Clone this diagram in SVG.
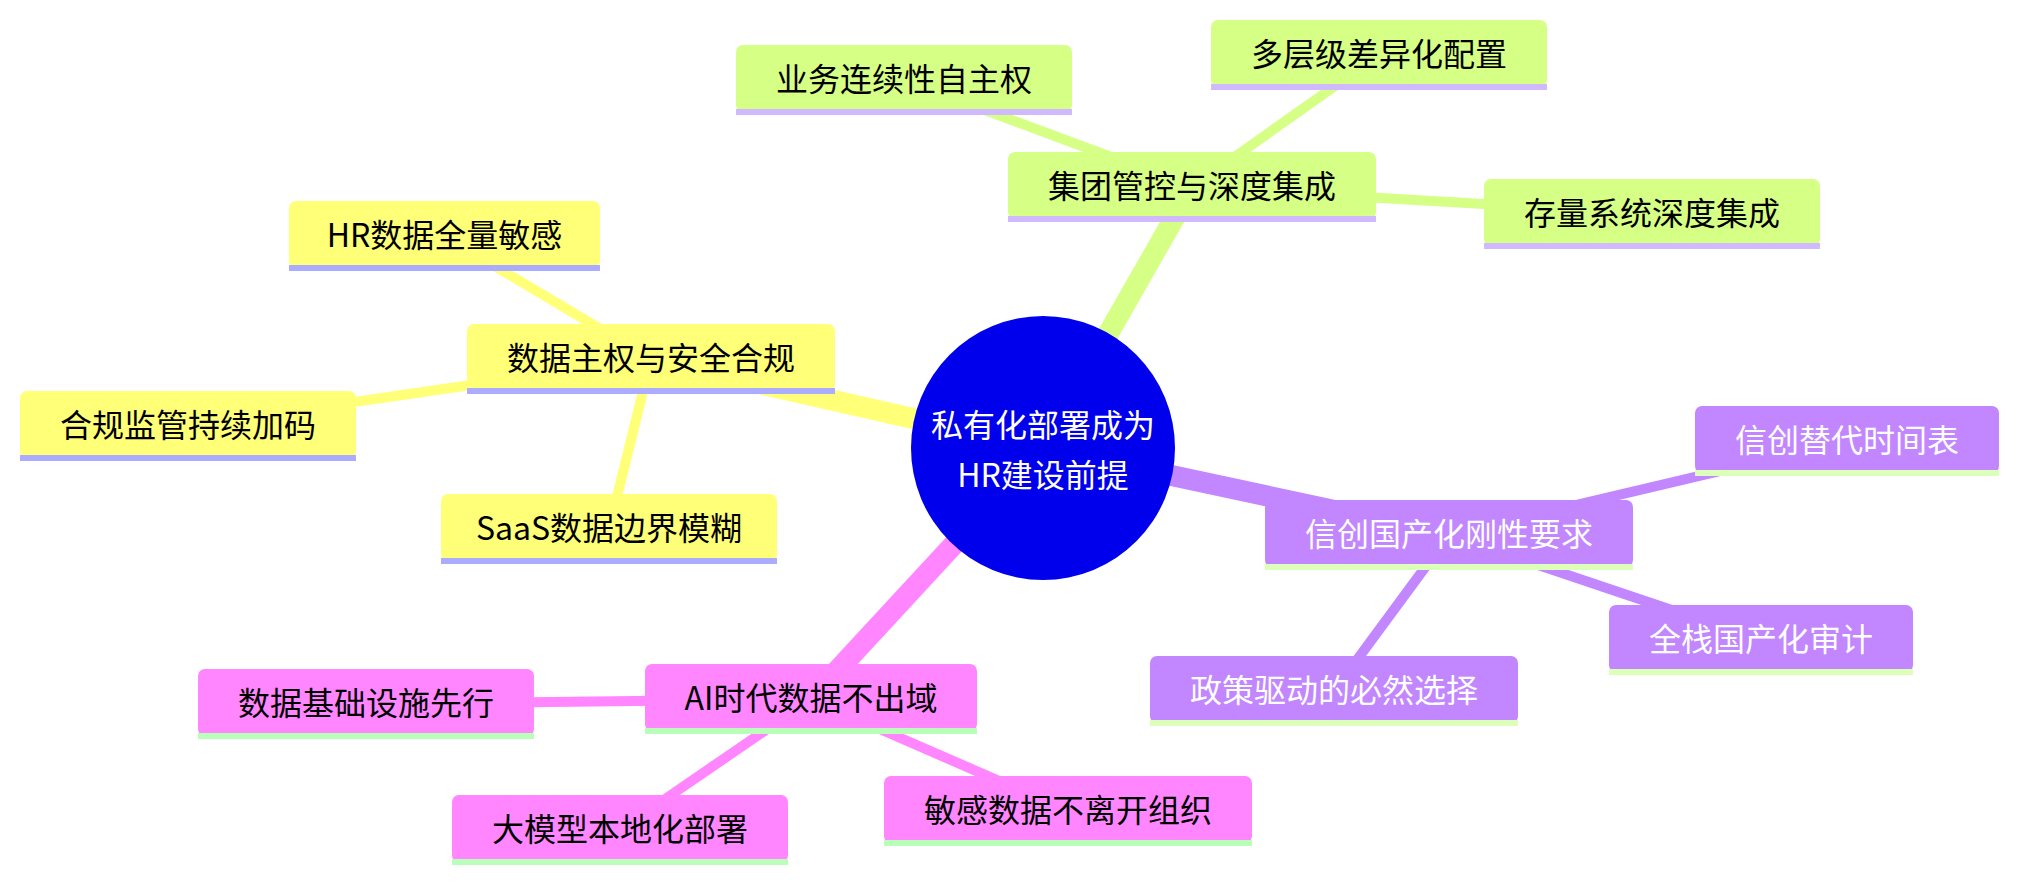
<svg xmlns="http://www.w3.org/2000/svg" width="2018" height="882" viewBox="0 0 2018 882">
<style>
text{font-family:"Noto Sans CJK SC","Noto Sans",sans-serif;font-size:32px;text-anchor:middle;dominant-baseline:central}
.s0 .b{fill:#ffff78}.s0 .l{fill:#ababff}.s0 text{fill:#000}
.s1 .b{fill:#d6ff86}.s1 .l{fill:#d0b9ff}.s1 text{fill:#000}
.s2 .b{fill:#c286ff}.s2 .l{fill:#dcffb9}.s2 text{fill:#fff}
.s3 .b{fill:#ff86ff}.s3 .l{fill:#b9ffb9}.s3 text{fill:#000}
.e{fill:none;stroke-linecap:butt}
.d1{stroke-width:21}.d2{stroke-width:10}
.c0{stroke:#ffff78}.c1{stroke:#d6ff86}.c2{stroke:#c286ff}.c3{stroke:#ff86ff}
</style>
<rect width="2018" height="882" fill="#fff"/>
<g id="connectors">
<line class="e d1 c0" x1="1043" y1="448" x2="651" y2="359"/>
<line class="e d1 c1" x1="1043" y1="448" x2="1192" y2="187"/>
<line class="e d1 c2" x1="1043" y1="448" x2="1449" y2="535"/>
<line class="e d1 c3" x1="1043" y1="448" x2="811" y2="699"/>
<line class="e d2 c0" x1="651" y1="359" x2="444" y2="236"/>
<line class="e d2 c0" x1="651" y1="359" x2="188" y2="426"/>
<line class="e d2 c0" x1="651" y1="359" x2="609" y2="529"/>
<line class="e d2 c1" x1="1192" y1="187" x2="904" y2="80"/>
<line class="e d2 c1" x1="1192" y1="187" x2="1379" y2="55"/>
<line class="e d2 c1" x1="1192" y1="187" x2="1652" y2="214"/>
<line class="e d2 c2" x1="1449" y1="535" x2="1847" y2="441"/>
<line class="e d2 c2" x1="1449" y1="535" x2="1761" y2="640"/>
<line class="e d2 c2" x1="1449" y1="535" x2="1334" y2="691"/>
<line class="e d2 c3" x1="811" y1="699" x2="366" y2="704"/>
<line class="e d2 c3" x1="811" y1="699" x2="620" y2="830"/>
<line class="e d2 c3" x1="811" y1="699" x2="1068" y2="811"/>
</g>
<g id="root">
<circle cx="1043" cy="448" r="132" fill="#0000ec"/>
<text x="1043" y="423" fill="#fff">私有化部署成为</text>
<text x="1043" y="473" fill="#fff">HR建设前提</text>
</g>
<g id="n-sovereignty" class="s0"><rect class="b" x="467" y="324" width="368" height="67" rx="7"/><rect class="l" x="467" y="388" width="368" height="6"/><text x="651" y="356">数据主权与安全合规</text></g>
<g id="n-hr" class="s0"><rect class="b" x="289" y="201" width="311" height="67" rx="7"/><rect class="l" x="289" y="265" width="311" height="6"/><text x="444.5" y="233">HR数据全量敏感</text></g>
<g id="n-compliance" class="s0"><rect class="b" x="20" y="391" width="336" height="67" rx="7"/><rect class="l" x="20" y="455" width="336" height="6"/><text x="188" y="423">合规监管持续加码</text></g>
<g id="n-saas" class="s0"><rect class="b" x="441" y="494" width="336" height="67" rx="7"/><rect class="l" x="441" y="558" width="336" height="6"/><text x="609" y="526">SaaS数据边界模糊</text></g>
<g id="n-group" class="s1"><rect class="b" x="1008" y="152" width="368" height="67" rx="7"/><rect class="l" x="1008" y="216" width="368" height="6"/><text x="1192" y="184">集团管控与深度集成</text></g>
<g id="n-continuity" class="s1"><rect class="b" x="736" y="45" width="336" height="67" rx="7"/><rect class="l" x="736" y="109" width="336" height="6"/><text x="904" y="77">业务连续性自主权</text></g>
<g id="n-multilevel" class="s1"><rect class="b" x="1211" y="20" width="336" height="67" rx="7"/><rect class="l" x="1211" y="84" width="336" height="6"/><text x="1379" y="52">多层级差异化配置</text></g>
<g id="n-legacy" class="s1"><rect class="b" x="1484" y="179" width="336" height="67" rx="7"/><rect class="l" x="1484" y="243" width="336" height="6"/><text x="1652" y="211">存量系统深度集成</text></g>
<g id="n-xinchuang" class="s2"><rect class="b" x="1265" y="500" width="368" height="67" rx="7"/><rect class="l" x="1265" y="564" width="368" height="6"/><text x="1449" y="532">信创国产化刚性要求</text></g>
<g id="n-timeline" class="s2"><rect class="b" x="1695" y="406" width="304" height="67" rx="7"/><rect class="l" x="1695" y="470" width="304" height="6"/><text x="1847" y="438">信创替代时间表</text></g>
<g id="n-audit" class="s2"><rect class="b" x="1609" y="605" width="304" height="67" rx="7"/><rect class="l" x="1609" y="669" width="304" height="6"/><text x="1761" y="637">全栈国产化审计</text></g>
<g id="n-policy" class="s2"><rect class="b" x="1150" y="656" width="368" height="67" rx="7"/><rect class="l" x="1150" y="720" width="368" height="6"/><text x="1334" y="688">政策驱动的必然选择</text></g>
<g id="n-ai" class="s3"><rect class="b" x="645" y="664" width="332" height="67" rx="7"/><rect class="l" x="645" y="728" width="332" height="6"/><text x="811" y="696">AI时代数据不出域</text></g>
<g id="n-infra" class="s3"><rect class="b" x="198" y="669" width="336" height="67" rx="7"/><rect class="l" x="198" y="733" width="336" height="6"/><text x="366" y="701">数据基础设施先行</text></g>
<g id="n-llm" class="s3"><rect class="b" x="452" y="795" width="336" height="67" rx="7"/><rect class="l" x="452" y="859" width="336" height="6"/><text x="620" y="827">大模型本地化部署</text></g>
<g id="n-sensitive" class="s3"><rect class="b" x="884" y="776" width="368" height="67" rx="7"/><rect class="l" x="884" y="840" width="368" height="6"/><text x="1068" y="808">敏感数据不离开组织</text></g>
</svg>
